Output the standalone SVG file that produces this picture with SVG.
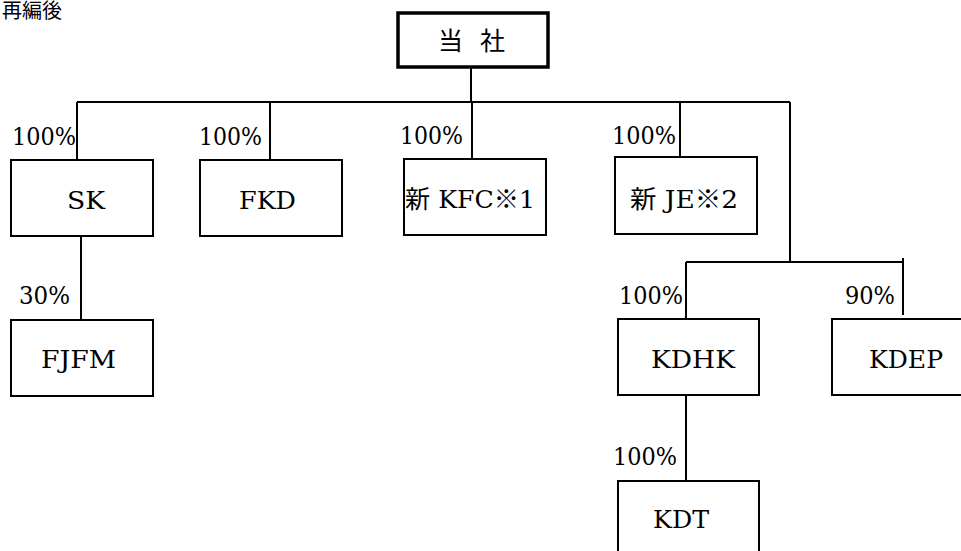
<svg xmlns="http://www.w3.org/2000/svg" width="961" height="551" viewBox="0 0 961 551">
<style>
.box{fill:#fff;stroke:#000;stroke-width:2}
.top{fill:#fff;stroke:#000;stroke-width:3.5}
.ln{stroke:#000;stroke-width:2;fill:none}
.t{font-size:25px;fill:#000}
.p{font-size:24px;fill:#000}
.j{fill:#000}
</style>
<rect width="961" height="551" fill="#fff"/>
<text class="j" font-family="'Noto Sans CJK JP', sans-serif" x="2" y="18" font-size="20">再編後</text>
<g id="connectors">
<path class="ln" d="M471 67V102M77 102H790M77 102V160M270 102V160M472 102V159M680 102V157M790 102V262M686 262H903M686 262V319M903 258V315M81 236V320M686 395V481"/>
</g>
<g font-family="'DejaVu Serif', 'Noto Sans CJK JP', serif">
<g id="n-top"><rect class="top" x="398" y="13" width="150" height="54"/><text class="j" font-family="'Noto Sans CJK JP', sans-serif" x="438" y="50" font-size="25" textLength="67" lengthAdjust="spacing">当 社</text></g>
<g id="n-sk"><rect class="box" x="11" y="160" width="142" height="76"/><text class="t" x="67" y="209" textLength="38" lengthAdjust="spacingAndGlyphs">SK</text><text class="p" x="12" y="145" textLength="64" lengthAdjust="spacingAndGlyphs">100%</text></g>
<g id="n-fkd"><rect class="box" x="200" y="160" width="142" height="76"/><text class="t" x="239" y="209" textLength="57" lengthAdjust="spacingAndGlyphs">FKD</text><text class="p" x="199" y="145" textLength="63" lengthAdjust="spacingAndGlyphs">100%</text></g>
<g id="n-kfc"><rect class="box" x="404" y="159" width="142" height="76"/><text class="t" x="405" y="208" textLength="130" lengthAdjust="spacingAndGlyphs">新 KFC※1</text><text class="p" x="400" y="144" textLength="63" lengthAdjust="spacingAndGlyphs">100%</text></g>
<g id="n-je"><rect class="box" x="615" y="157" width="142" height="77"/><text class="t" x="630" y="208" textLength="108" lengthAdjust="spacingAndGlyphs">新 JE※2</text><text class="p" x="612" y="144" textLength="64" lengthAdjust="spacingAndGlyphs">100%</text></g>
<g id="n-fjfm"><rect class="box" x="11" y="320" width="142" height="76"/><text class="t" x="41" y="368" textLength="75" lengthAdjust="spacingAndGlyphs">FJFM</text><text class="p" x="19" y="304" textLength="51" lengthAdjust="spacingAndGlyphs">30%</text></g>
<g id="n-kdhk"><rect class="box" x="618" y="319" width="141" height="76"/><text class="t" x="651" y="368" textLength="84" lengthAdjust="spacingAndGlyphs">KDHK</text><text class="p" x="619" y="304" textLength="64" lengthAdjust="spacingAndGlyphs">100%</text></g>
<g id="n-kdep"><rect class="box" x="832" y="319" width="142" height="76"/><text class="t" x="869" y="368" textLength="74" lengthAdjust="spacingAndGlyphs">KDEP</text><text class="p" x="845" y="304" textLength="50" lengthAdjust="spacingAndGlyphs">90%</text></g>
<g id="n-kdt"><rect class="box" x="618" y="481" width="141" height="80"/><text class="t" x="653" y="528" textLength="56" lengthAdjust="spacingAndGlyphs">KDT</text><text class="p" x="613" y="465" textLength="64" lengthAdjust="spacingAndGlyphs">100%</text></g>
</g>
</svg>
